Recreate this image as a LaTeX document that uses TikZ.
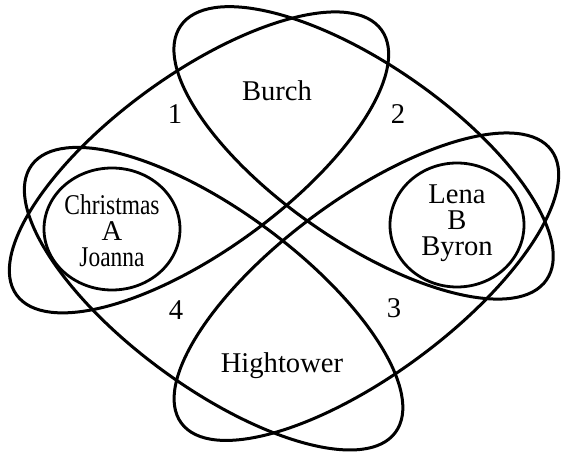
\documentclass[tikz,border=0pt]{standalone}
\usepackage{fontspec}
\setmainfont{Liberation Serif}
\usetikzlibrary{positioning}
\tikzset{
  leaf/.style={line width=1.5pt},
  ring/.style={line width=1.4pt},
  person/.style={font=\fontsize{14.3}{13}\selectfont,inner sep=0pt,anchor=base},
  cluster/.style={font=\fontsize{14.3}{13}\selectfont,inner sep=0pt,align=center},
  regnum/.style={font=\fontsize{14.3}{13}\selectfont,inner sep=0pt,anchor=base}
}

\begin{document}
\begin{tikzpicture}[x=0.5pt,y=-0.5pt]
  \useasboundingbox (0,0) rectangle (564,454);
  % centres of the four long loops and the two rings
  \coordinate (c1) at (363.6,152.9);
  \coordinate (c2) at (199,162.4);
  \coordinate (c3) at (213.6,298.7);
  \coordinate (c4) at (366.4,286.7);
  \coordinate (cl) at (112,229);
  \coordinate (cr) at (457,225);
  \draw[leaf,rotate around={-34.8:(c1)}] (c1) ellipse [x radius=222.7,y radius=88];
  \draw[leaf,rotate around={36:(c2)}] (c2) ellipse [x radius=225.5,y radius=88];
  \draw[leaf,rotate around={-36.3:(c3)}] (c3) ellipse [x radius=225.7,y radius=88];
  \draw[leaf,rotate around={36.4:(c4)}] (c4) ellipse [x radius=229.9,y radius=88];
  \draw[ring] (cl) ellipse [x radius=68,y radius=61];
  \draw[ring] (cr) ellipse [x radius=67,y radius=62];
  % labels
  \node[person] (burch) at (277,101) {Burch};
  \node[person] (hightower) at (282,373) {Hightower};
  \node[cluster] (left) at (112,230.5) {\scalebox{0.82}[1]{Christmas}\\A\\\scalebox{0.82}[1]{Joanna}};
  \node[cluster] (right) at (457,223) {Lena\\B\\Byron};
  \node[regnum] (n1) at (175,124) {1};
  \node[regnum] (n2) at (398,124) {2};
  \node[regnum] (n3) at (394,318) {3};
  \node[regnum] (n4) at (176,320) {4};
\end{tikzpicture}
\end{document}
